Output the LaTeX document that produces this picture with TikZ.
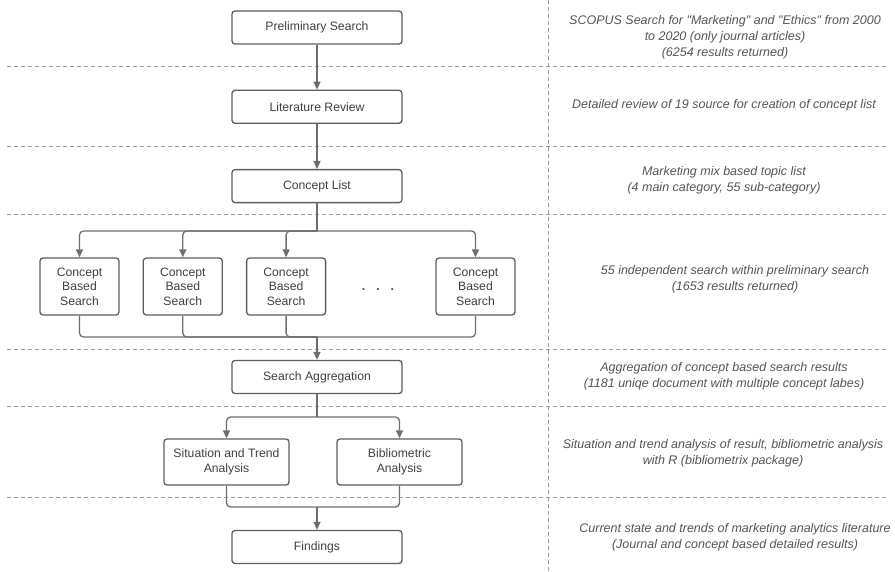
\documentclass[tikz,border=0pt]{standalone}
\usepackage{fontspec}
\setmainfont{Liberation Sans}
\usepackage{tikz}
\usetikzlibrary{arrows.meta,positioning}
\definecolor{boxgray}{HTML}{5E5E5E}
\definecolor{textgray}{HTML}{404040}
\definecolor{notegray}{HTML}{555555}
\definecolor{dashgray}{HTML}{9C9C9C}
\definecolor{arrowgray}{HTML}{6E6E6E}

\begin{document}
\begin{tikzpicture}[x=1pt,y=-1pt,>={Triangle[length=8pt,width=7pt]},
                    semithick,node distance=45pt,
                    font=\fontsize{12.2}{14.7}\selectfont]
  \tikzstyle{process}=[rectangle, rounded corners=3pt, draw=boxgray,
    line width=1.3pt, text=textgray, align=center, inner sep=2pt,
    minimum width=170pt, minimum height=33pt]
  \tikzstyle{concept}=[process, minimum width=79pt, minimum height=57pt]
  \tikzstyle{analysis}=[process, minimum width=125pt, minimum height=46pt]
  \tikzstyle{note}=[text=notegray, align=center,
    font=\fontsize{12.5}{16}\selectfont\itshape]
  \tikzstyle{separator}=[draw=dashgray, line width=0.8pt,
    dash pattern=on 4pt off 3pt]
  \tikzstyle{flow}=[draw=arrowgray, line width=1.3pt, rounded corners=4pt]
  \useasboundingbox (0,0) rectangle (895,571);
  % phase separators
  \foreach \y in {66,146,214,349,406,497}
    \draw[separator] (7,\y) -- (888,\y);
  \draw[separator] (548,0) -- (548,571);
  % left column
  \node[process] (Prelim) at (317,27.5) {Preliminary Search};
  \node[process] (Review) [below=of Prelim] {Literature Review};
  \node[process] (List) [below=of Review] {Concept List};
  \node[concept] (Search1) at (79.5,286.5) {Concept\\Based\\Search};
  \node[concept] (Search2) [right=23pt of Search1] {Concept\\Based\\Search};
  \node[concept] (Search3) [right=23pt of Search2] {Concept\\Based\\Search};
  \node[text=textgray] (Dots) at (378,290)
    {\textbf{.}\hspace{11pt}\textbf{.}\hspace{11pt}\textbf{.}};
  \node[concept] (Search4) at (475.5,286.5) {Concept\\Based\\Search};
  \node[process] (Aggregation) at (317,377) {Search Aggregation};
  \node[analysis] (Situation) at (226.5,462) {Situation and Trend\\Analysis};
  \node[analysis] (Biblio) at (399.5,462) {Bibliometric\\Analysis};
  \node[process] (Findings) at (317,547) {Findings};
  \coordinate (Split1) at (317,231);
  \coordinate (Merge1) at (317,337);
  \coordinate (Split2) at (317,417);
  \coordinate (Merge2) at (317,507);
  % right column
  \node[note] (PrelimNote) at (725,37)
    {SCOPUS Search for \textquotedbl Marketing\textquotedbl\ and
     \textquotedbl Ethics\textquotedbl\ from 2000\\to 2020 (only journal
     articles)\\(6254 results returned)};
  \node[note] (ReviewNote) at (724,105)
    {Detailed review of 19 source for creation of concept list};
  \node[note] (ListNote) at (724,180.5)
    {Marketing mix based topic list\\(4 main category, 55 sub-category)};
  \node[note] (SearchNote) at (735,279.5)
    {55 independent search within preliminary search\\(1653 results returned)};
  \node[note] (AggregationNote) at (724,376)
    {Aggregation of concept based search results\\(1181 uniqe document
     with multiple concept labes)};
  \node[note] (AnalysisNote) at (723,453)
    {Situation and trend analysis of result, bibliometric analysis\\with R
     (bibliometrix package)};
  \node[note] (FindingsNote) at (735,537)
    {Current state and trends of marketing analytics literature\\(Journal
     and concept based detailed results)};
  % connectors
  \draw[flow,->] (Prelim) -- (Review);
  \draw[flow,->] (Review) -- (List);
  \draw[flow] (List) -- (Split1);
  \foreach \s in {Search1,Search2,Search3,Search4}{
    \draw[flow,->] (Split1) -| (\s);
    \draw[flow] (\s) |- (Merge1);
  }
  \draw[flow,->] (Merge1) -- (Aggregation);
  \draw[flow] (Aggregation) -- (Split2);
  \foreach \s in {Situation,Biblio}{
    \draw[flow,->] (Split2) -| (\s);
    \draw[flow] (\s) |- (Merge2);
  }
  \draw[flow,->] (Merge2) -- (Findings);
\end{tikzpicture}
\end{document}
